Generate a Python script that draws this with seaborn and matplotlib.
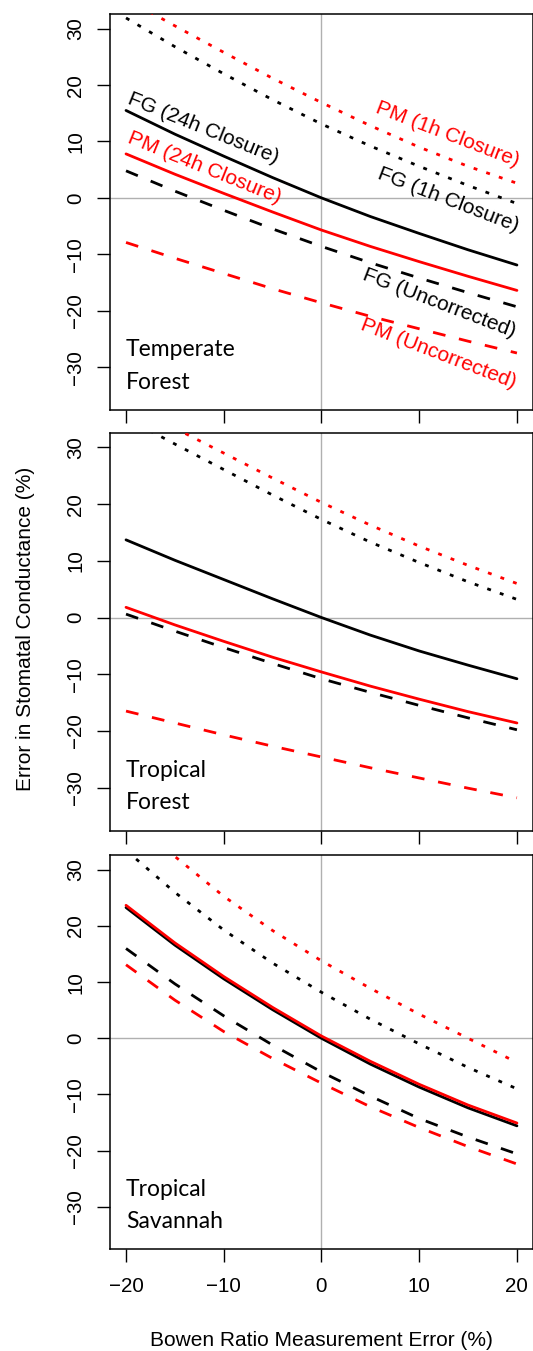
import numpy as np
import pandas as pd
import seaborn as sns
import matplotlib.pyplot as plt

# Bowen ratio measurement error (%)
bowen_err = [-20, -15, -10, -5, 0, 5, 10, 15, 20]

# Temperate forest
temp_fg_24h = [15.5, 11.3, 7.4, 3.6, 0.0, -3.3, -6.3, -9.2, -11.9]
temp_pm_24h = [7.8, 4.2, 0.8, -2.5, -5.7, -8.6, -11.3, -13.9, -16.4]
temp_fg_unc = [4.8, 1.2, -2.2, -5.5, -8.6, -11.5, -14.2, -16.8, -19.3]
temp_pm_unc = [-7.9, -10.7, -13.4, -16.1, -18.6, -21.0, -23.2, -25.4, -27.5]
temp_fg_1h = [31.9, 26.8, 22.0, 17.4, 13.1, 9.2, 5.6, 2.2, -1.0]
temp_pm_1h = [35.3, 30.5, 25.8, 21.2, 16.9, 12.8, 9.0, 5.6, 2.6]

# Tropical forest
trop_fg_24h = [13.7, 10.1, 6.7, 3.3, 0.0, -3.1, -5.9, -8.4, -10.8]
trop_pm_24h = [1.8, -1.3, -4.2, -7.0, -9.6, -12.1, -14.4, -16.6, -18.6]
trop_fg_unc = [0.6, -2.4, -5.3, -8.1, -10.8, -13.2, -15.5, -17.7, -19.8]
trop_pm_unc = [-16.5, -18.6, -20.7, -22.7, -24.6, -26.5, -28.3, -30.1, -31.8]
trop_fg_1h = [35.2, 30.6, 26.1, 21.6, 17.3, 13.3, 9.7, 6.3, 3.2]
trop_pm_1h = [37.8, 33.4, 29.0, 24.6, 20.3, 16.3, 12.6, 9.2, 6.0]

# Tropical savannah
sav_fg_24h = [23.3, 16.6, 10.6, 5.1, 0.0, -4.6, -8.7, -12.4, -15.6]
sav_pm_24h = [23.7, 17.0, 11.0, 5.5, 0.4, -4.1, -8.2, -11.9, -15.1]
sav_fg_unc = [16.0, 9.7, 4.0, -1.2, -6.0, -10.3, -14.3, -17.6, -20.6]
sav_pm_unc = [13.1, 6.8, 1.2, -3.6, -8.0, -12.2, -15.9, -19.3, -22.4]
sav_fg_1h = [33.5, 26.0, 19.3, 13.4, 8.2, 3.4, -1.0, -5.2, -9.0]
sav_pm_1h = [40.2, 32.4, 25.3, 19.2, 13.8, 8.9, 4.3, 0.0, -4.3]

panel_names = ['Temperate\nForest', 'Tropical\nForest', 'Tropical\nSavannah']
series_names = ['FG (24h Closure)', 'PM (24h Closure)', 'FG (Uncorrected)',
                'PM (Uncorrected)', 'FG (1h Closure)', 'PM (1h Closure)']
panels = [
    [temp_fg_24h, temp_pm_24h, temp_fg_unc, temp_pm_unc, temp_fg_1h, temp_pm_1h],
    [trop_fg_24h, trop_pm_24h, trop_fg_unc, trop_pm_unc, trop_fg_1h, trop_pm_1h],
    [sav_fg_24h, sav_pm_24h, sav_fg_unc, sav_pm_unc, sav_fg_1h, sav_pm_1h],
]

# estilo de cada serie
colores = ['black', 'red', 'black', 'red', 'black', 'red']
estilos = ['-', '-', (0, (4.6, 5.0)), (0, (4.6, 5.0)), (0, (1.4, 3.4)), (0, (1.4, 3.4))]

sns.set_theme(style='white')
plt.rcParams['font.family'] = ['Liberation Sans', 'DejaVu Sans']
plt.rcParams['axes.unicode_minus'] = True
plt.rcParams['text.color'] = 'black'

fig = plt.figure(figsize=(5.33, 13.51), dpi=100)
left, width = 0.2071, 0.7921
posiciones = [(0.69652, 0.29312), (0.38512, 0.2946), (0.07528, 0.2916)]

for i, (datos, nombre) in enumerate(zip(panels, panel_names)):
    ax = fig.add_axes([left, posiciones[i][0], width, posiciones[i][1]])
    ax.axhline(0, color='#b0b0b0', lw=1.0, zorder=1)
    ax.axvline(0, color='#b0b0b0', lw=1.0, zorder=1)
    for vals, c, ls in zip(datos, colores, estilos):
        df = pd.DataFrame({'x': bowen_err, 'y': vals})
        sns.lineplot(data=df, x='x', y='y', color=c, linestyle=ls, lw=2.0,
                     ax=ax, zorder=3)
    ax.set_xlim(-21.6, 21.6)
    ax.set_ylim(-37.6, 32.6)
    ax.set_xticks([-20, -10, 0, 10, 20])
    ax.set_yticks([-30, -20, -10, 0, 10, 20, 30])
    ax.set_xlabel('')
    ax.set_ylabel('')
    for s in ax.spines.values():
        s.set_color('black')
        s.set_linewidth(1.1)
    ax.tick_params(direction='out', length=9.2, width=1.0, color='black',
                   labelsize=14.8, labelcolor='black', bottom=True, left=True)
    ax.tick_params(axis='y', pad=9.0)
    ax.tick_params(axis='x', pad=11.0)
    plt.setp(ax.get_yticklabels(), rotation=90, va='center')
    if i < 2:
        ax.set_xticklabels([])
    lineas = nombre.split('\n')
    ax.text(-20.0, -28.1, lineas[0], fontsize=16.5, family='Lato',
            ha='left', va='baseline', color='black')
    ax.text(-20.0, -33.8, lineas[1], fontsize=16.5, family='Lato',
            ha='left', va='baseline', color='black')

    if i == 0:
        etiquetas = [(-12.1, 12.4, -22), (-12.0, 5.4, -22), (12.0, -18.7, -21),
                     (12.0, -27.6, -21), (13.0, -0.4, -21), (12.9, 11.2, -21)]
        for nom, c, (tx, ty, rot) in zip(series_names, colores, etiquetas):
            ax.text(tx, ty, nom, color=c, fontsize=15, rotation=rot,
                    rotation_mode='anchor', ha='center', va='center')

fig.text(321.5 / 533, 1 - 1346 / 1351, 'Bowen Ratio Measurement Error (%)',
         fontsize=15, ha='center', va='baseline', color='black')
fig.text(31 / 533, 1 - 629 / 1351, 'Error in Stomatal Conductance (%)',
         fontsize=15, rotation=90, rotation_mode='anchor',
         ha='center', va='baseline', color='black')

plt.savefig('out.png', dpi=100)
